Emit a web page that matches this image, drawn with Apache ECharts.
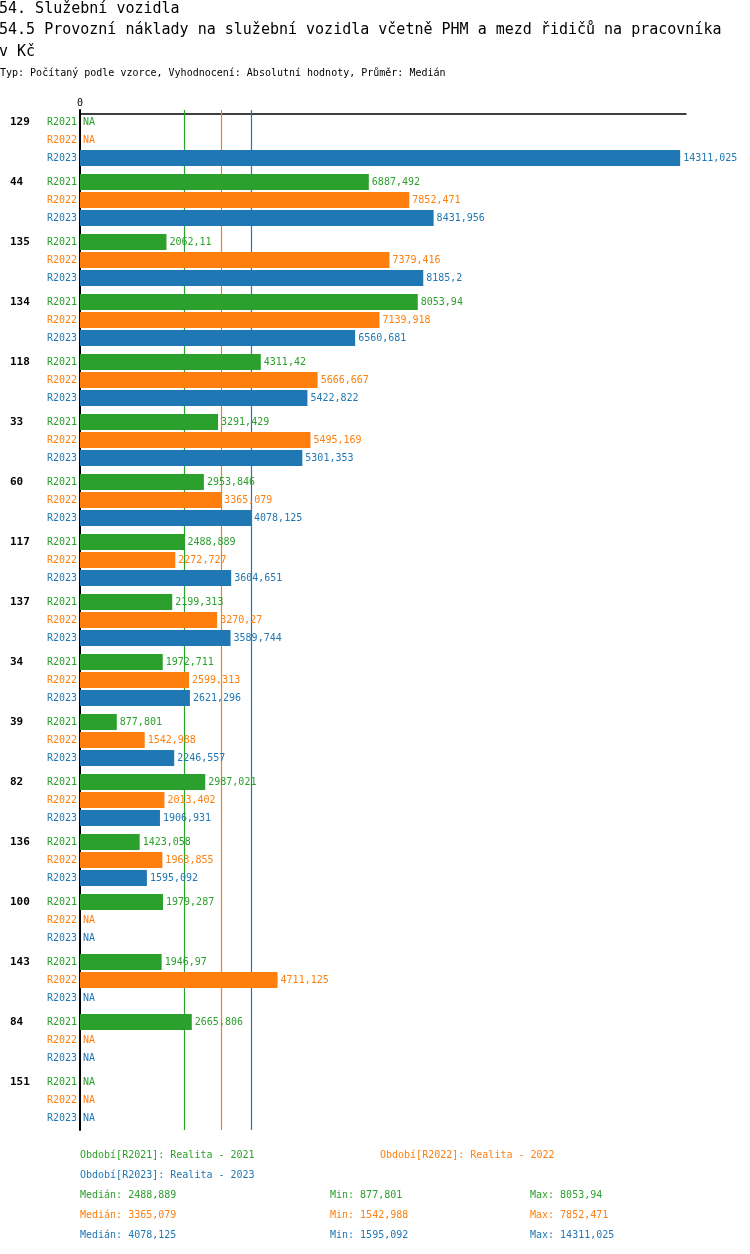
<!DOCTYPE html>
<html>
<head>
<meta charset="utf-8">
<script src="https://cdn.jsdelivr.net/npm/echarts@6/dist/echarts.min.js"></script>
<style>
html,body{margin:0;padding:0;background:#fff;}
#chart{width:750px;height:1254px;}
</style>
</head>
<body>
<div id="chart"></div>
<script>
// ---- data ----
const categories = ['129','44','135','134','118','33','60','117','137','34','39','82','136','100','143','84','151'];
const periods = ['R2021','R2022','R2023'];
const periodNames = ['Realita - 2021','Realita - 2022','Realita - 2023'];
const r2021 = [null, 6887.492, 2062.11, 8053.94, 4311.42, 3291.429, 2953.846, 2488.889, 2199.313, 1972.711, 877.801, 2987.021, 1423.058, 1979.287, 1946.97, 2665.806, null];
const r2022 = [null, 7852.471, 7379.416, 7139.918, 5666.667, 5495.169, 3365.079, 2272.727, 3270.27, 2599.313, 1542.988, 2013.402, 1963.855, null, 4711.125, null, null];
const r2023 = [14311.025, 8431.956, 8185.2, 6560.681, 5422.822, 5301.353, 4078.125, 3604.651, 3589.744, 2621.296, 2246.557, 1906.931, 1595.092, null, null, null, null];
const xTicks = [0];
const colors = ['#2ca02c', '#ff7f0e', '#1f77b4'];

const seriesValues = [r2021, r2022, r2023];
const FONT = '"DejaVu Sans Mono", "Liberation Mono", monospace';

function fmt(v) { return String(v).replace('.', ','); }
function stats(arr) {
  const s = arr.filter(v => v != null).slice().sort((a, b) => a - b);
  const n = s.length;
  const med = n % 2 ? s[(n - 1) / 2] : (s[n / 2 - 1] + s[n / 2]) / 2;
  return { med: med, min: s[0], max: s[n - 1] };
}
const st = seriesValues.map(stats);

const series = seriesValues.map((vals, i) => ({
  name: periods[i],
  type: 'bar',
  z: 3,
  barWidth: 16,
  barGap: '12.5%',
  itemStyle: { color: colors[i] },
  data: vals.map(v => ({ value: v == null ? 0 : v, na: v == null })),
  label: {
    show: true,
    position: 'right',
    distance: 3,
    color: colors[i],
    fontFamily: FONT,
    fontSize: 10,
    formatter: p => p.data.na ? 'NA' : fmt(p.value)
  },
  markLine: {
    z: 1,
    silent: true,
    symbol: 'none',
    label: { show: false },
    lineStyle: { color: colors[i], width: 1.2, type: 'solid', opacity: 1 },
    emphasis: { disabled: true },
    data: [{ xAxis: st[i].med, lineStyle: { color: colors[i], width: 1.2, type: 'solid' } }]
  },
  animation: false
}));

const legendText = [];
const legendPos = [[80, 1156], [380, 1156], [80, 1176]];
periods.forEach((p, i) => {
  legendText.push({
    type: 'text', left: legendPos[i][0], top: legendPos[i][1] - 6,
    style: { text: 'Období[' + p + ']: ' + periodNames[i], fill: colors[i], font: '10px ' + FONT }
  });
});
const statCols = [80, 330, 530];
st.forEach((s, i) => {
  const y = 1196 + i * 20 - 6;
  const txt = ['Medián: ' + fmt(s.med), 'Min: ' + fmt(s.min), 'Max: ' + fmt(s.max)];
  txt.forEach((t, j) => {
    legendText.push({
      type: 'text', left: statCols[j], top: y,
      style: { text: t, fill: colors[i], font: '10px ' + FONT }
    });
  });
});

const chart = echarts.init(document.getElementById('chart'), null, { renderer: 'canvas' });
chart.setOption({
  animation: false,
  backgroundColor: '#fff',
  textStyle: { fontFamily: FONT },
  title: [
    {
      text: '54. Služební vozidla\n54.5 Provozní náklady na služební vozidla včetně PHM a mezd řidičů na pracovníka\nv Kč',
      left: -1, top: -2, padding: 0,
      textStyle: { fontFamily: FONT, fontSize: 15, fontWeight: 'normal', color: '#000', lineHeight: 21.5 }
    },
    {
      text: 'Typ: Počítaný podle vzorce, Vyhodnocení: Absolutní hodnoty, Průměr: Medián',
      left: 0, top: 67, padding: 0,
      textStyle: { fontFamily: FONT, fontSize: 10, fontWeight: 'normal', color: '#000', lineHeight: 12 }
    }
  ],
  grid: { left: 80, right: 64, top: 110, height: 1020, containLabel: false },
  xAxis: {
    type: 'value',
    position: 'top',
    min: 0,
    max: 14450,
    interval: 14450,
    offset: -4,
    axisLine: { show: true, lineStyle: { color: '#000', width: 1.5 } },
    axisTick: { show: false },
    splitLine: { show: false },
    axisLabel: {
      margin: 6,
      color: '#000', fontFamily: FONT, fontSize: 10,
      formatter: v => xTicks.indexOf(v) >= 0 ? String(v) : ''
    }
  },
  yAxis: {
    type: 'category',
    inverse: true,
    data: categories,
    axisLine: { show: true, lineStyle: { color: '#000', width: 2 } },
    axisTick: { show: false },
    axisLabel: {
      margin: 3,
      align: 'right',
      formatter: v => '{c|' + v + '}{g|R2021}\n{o|R2022}\n{b|R2023}',
      rich: {
        c: { fontFamily: FONT, fontSize: 11, fontWeight: 'bold', color: '#000', width: 37, align: 'left', lineHeight: 18 },
        g: { fontFamily: FONT, fontSize: 10, color: colors[0], lineHeight: 18 },
        o: { fontFamily: FONT, fontSize: 10, color: colors[1], lineHeight: 18 },
        b: { fontFamily: FONT, fontSize: 10, color: colors[2], lineHeight: 18 }
      }
    }
  },
  series: series,
  graphic: legendText
});
</script>
</body>
</html>
